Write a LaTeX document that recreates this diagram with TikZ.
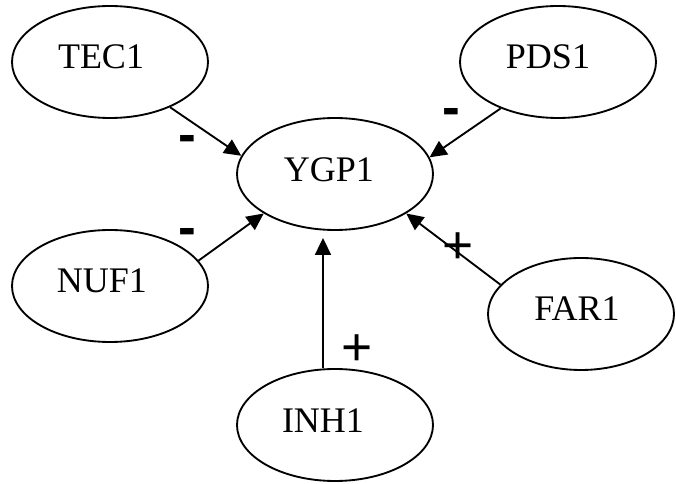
\documentclass[tikz,border=0pt]{standalone}
\usepackage{fontspec}
\setmainfont{Liberation Serif}
\newfontfamily\signfont{Liberation Sans}
\usetikzlibrary{shapes.geometric,arrows.meta}
\begin{document}
\begin{tikzpicture}[x=0.75pt,y=-0.75pt,
  gene/.style={ellipse,draw,line width=1.4pt,inner sep=0pt,minimum width=147pt,minimum height=84pt},
  genename/.style={font=\fontsize{27}{30}\selectfont,inner sep=0pt},
  link/.style={line width=1.4pt,-{Triangle[length=12.75pt,width=12pt]}},
  plussign/.style={font=\signfont\fontsize{40}{44}\selectfont,inner sep=0pt,anchor=base},
  minussign/.style={font=\signfont\bfseries\fontsize{40}{44}\selectfont,inner sep=0pt,anchor=base}]
\useasboundingbox (0,0) rectangle (676,484);

% gene ellipses
\node[gene] (ygp) at (335,174) {};
\node[gene] (tec) at (110,62) {};
\node[gene] (pds) at (558,62) {};
\node[gene] (nuf) at (110,286) {};
\node[gene,minimum width=139.5pt] (far) at (581,314) {};
\node[gene] (inh) at (335,425) {};

% gene names
\node[genename] (ygpl) at (329,170) {YGP1};
\node[genename] (tecl) at (101,57) {TEC1};
\node[genename] (pdsl) at (548,57) {PDS1};
\node[genename] (nufl) at (102,281) {NUF1};
\node[genename] (farl) at (577,309) {FAR1};
\node[genename] (inhl) at (323,421) {INH1};

% regulatory links
\draw[link] (tec.-37.8) -- (ygp.169.5);
\draw[link] (pds.-141.1) -- (ygp.10.4);
\draw[link] (nuf.16) -- (ygp.209);
\draw[link] (far.160.9) -- (ygp.-29.2);
\draw[link,shorten >=5.25pt] (inh.102) -- (inh.102 |- ygp.south);

% signs of the links
\node[minussign] (stec) at (187,152.5) {-};
\node[minussign] (snuf) at (187,245.5) {-};
\node[minussign] (spds) at (451,125.5) {-};
\node[plussign] (sfar) at (458,264) {+};
\node[plussign] (sinh) at (357,366) {+};
\end{tikzpicture}
\end{document}
